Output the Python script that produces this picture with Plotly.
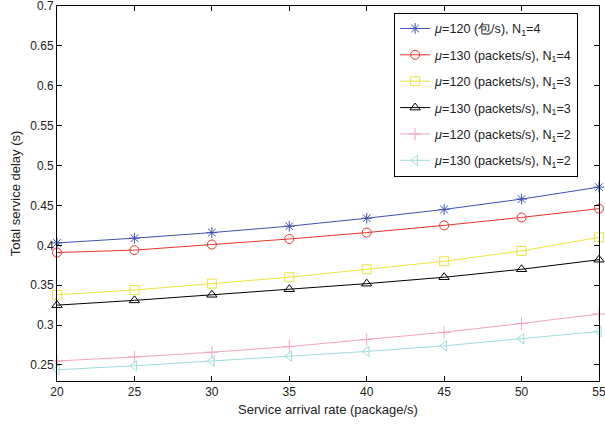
import plotly.graph_objects as go

x = [20, 25, 30, 35, 40, 45, 50, 55]
s1 = [0.403, 0.409, 0.416, 0.424, 0.434, 0.445, 0.458, 0.473]
s2 = [0.391, 0.394, 0.401, 0.408, 0.416, 0.425, 0.435, 0.446]
s3 = [0.338, 0.344, 0.352, 0.360, 0.370, 0.380, 0.393, 0.410]
s4 = [0.325, 0.331, 0.338, 0.345, 0.352, 0.360, 0.370, 0.382]
s5 = [0.255, 0.260, 0.266, 0.273, 0.282, 0.291, 0.302, 0.314]
s6 = [0.244, 0.249, 0.255, 0.261, 0.267, 0.274, 0.283, 0.292]
yticks = [0.25, 0.3, 0.35, 0.4, 0.45, 0.5, 0.55, 0.6, 0.65, 0.7]
ytick_labels = ["0.25", "0.3", "0.35", "0.4", "0.45", "0.5", "0.55", "0.6", "0.65", "0.7"]
names = [
    "<i>μ</i>=120 (包/s), N<sub>1</sub>=4",
    "<i>μ</i>=130 (packets/s), N<sub>1</sub>=4",
    "<i>μ</i>=120 (packets/s), N<sub>1</sub>=3",
    "<i>μ</i>=130 (packets/s), N<sub>1</sub>=3",
    "<i>μ</i>=120 (packets/s), N<sub>1</sub>=2",
    "<i>μ</i>=130 (packets/s), N<sub>1</sub>=2",
]
series = [s1, s2, s3, s4, s5, s6]
colors = ["#3f51b5", "#e8342c", "#ece43a", "#000000", "#f4a3c4", "#9fdcdc"]
symbols = ["asterisk-open", "circle-open", "square-open", "triangle-up-open",
           "cross-thin-open", "triangle-left-open"]

fig = go.Figure()
for i, (n, s, c, m) in enumerate(zip(names, series, colors, symbols)):
    fig.add_trace(go.Scatter(
        x=x, y=s, name=n, mode="lines+markers", legendgroup=f"g{i}",
        line=dict(color=c, width=1),
        marker=dict(symbol=m, size=9, color=c, line=dict(color=c, width=1)),
        cliponaxis=False,
    ))

axis_common = dict(
    showline=True, linecolor="black", linewidth=1, mirror="ticks",
    ticks="inside", ticklen=5, tickcolor="black", showgrid=False, zeroline=False,
    tickfont=dict(size=12, color="#222"), automargin=False, ticklabeloverflow="allow",
)
fig.update_xaxes(range=[19.999, 55.001], tickvals=x,
                 title=dict(text="Service arrival rate (package/s)",
                            font=dict(size=13, color="#222"), standoff=6), **axis_common)
fig.update_yaxes(range=[0.2299, 0.7001], tickvals=yticks, ticktext=ytick_labels,
                 title=dict(text="Total service delay (s)", font=dict(size=13, color="#222"), standoff=6),
                 **axis_common)
fig.update_layout(
    width=605, height=428,
    margin=dict(l=57, r=6, t=6, b=47),
    plot_bgcolor="white", paper_bgcolor="white",
    font=dict(family="Liberation Sans, Arial, sans-serif"),
    legend=dict(x=0.622, y=0.982, xanchor="left", yanchor="top",
                bordercolor="black", borderwidth=1, bgcolor="white",
                font=dict(size=12.6, color="#222"), tracegroupgap=7),
)
fig.write_html("out.html", config={"displayModeBar": False},
               post_script="document.body.style.margin='0';")
